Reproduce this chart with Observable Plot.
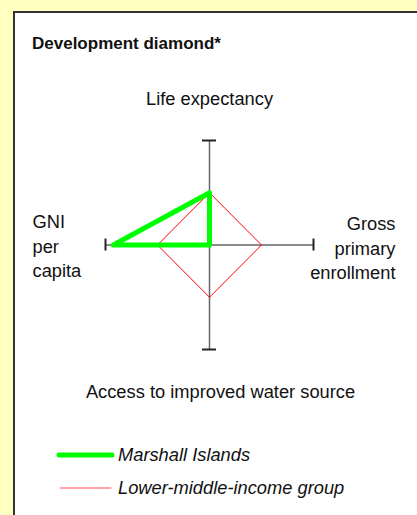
<!DOCTYPE html>
<html>
<head>
<meta charset="utf-8">
<script src="https://cdn.jsdelivr.net/npm/d3@7"></script>
<script src="https://cdn.jsdelivr.net/npm/@observablehq/plot@0.6"></script>
<style>
  html, body { margin: 0; padding: 0; }
  body { width: 417px; height: 515px; background: #FFFFC0; position: relative; overflow: hidden;
         font-family: "Liberation Sans", Arial, sans-serif; color: #111; }
  #panel { position: absolute; left: 13px; top: 11px; width: 404px; height: 504px; background: #fff;
           border-left: 2px solid #333; border-top: 2px solid #333; box-sizing: border-box; }
  #title { position: absolute; left: 32px; top: 34px; font-weight: bold; font-size: 17px; }
  #chart { position: absolute; left: 0; top: 70px; }
  .leg { position: absolute; left: 0; font-style: italic; font-size: 18.3px; white-space: nowrap; }
  .leg svg { position: absolute; top: 0; }
  .leg span { position: absolute; left: 118px; top: 0; line-height: 20px; }
</style>
</head>
<body>
<div id="panel"></div>
<div id="title">Development diamond*</div>
<div id="chart"></div>
<div id="legend"></div>
<script>
// Axis labels (direction order: up, right, down, left)
const axisLabels = ["Life expectancy", "Gross\nprimary\nenrollment", "Access to improved water source", "GNI\nper\ncapita"];
const axisDirX = [0, 1, 0, -1];
const axisDirY = [1, 0, -1, 0];
// Index values (lower-middle-income group = 1, axis end = 2)
const marshallIslands = [1.0, 0, 0, 1.85];
const lowerMiddleIncome = [1, 1, 1, 1];
const seriesNames = ["Marshall Islands", "Lower-middle-income group"];
const seriesColors = ["#00FF00", "#FF0000"];
const seriesWidths = [5, 1];
const axisMax = 2;

function polygon(vals, name) {
  const pts = vals.map((v, i) => ({x: v * axisDirX[i], y: v * axisDirY[i], series: name}));
  pts.push({...pts[0]});
  return pts;
}
const mPts = polygon(marshallIslands, seriesNames[0]);
const gPts = polygon(lowerMiddleIncome, seriesNames[1]);

const ends = axisLabels.map((t, i) => ({x: axisMax * axisDirX[i], y: axisMax * axisDirY[i], text: t, i}));
const labelDx = [0, 82, 11, -73];
const labelDy = [-43, 2, 41, 0];
const labelAnchor = ["middle", "end", "middle", "start"];

const plot = Plot.plot({
  width: 417,
  height: 340,
  margin: 0,
  style: {background: "transparent", fontFamily: "'Liberation Sans', Arial, sans-serif", color: "#111"},
  x: {domain: [-axisMax, axisMax], range: [105, 313], axis: null},
  y: {domain: [-axisMax, axisMax], range: [279, 70], axis: null},
  marks: [
    Plot.ruleX([0], {y1: -axisMax, y2: axisMax, stroke: "#666", strokeWidth: 1.5}),
    Plot.ruleY([0], {x1: -axisMax, x2: axisMax, stroke: "#666", strokeWidth: 1.5}),
    // end caps
    Plot.ruleY([-axisMax, axisMax], {x1: -0.135, x2: 0.135, stroke: "#222", strokeWidth: 2}),
    Plot.ruleX([-axisMax, axisMax], {y1: -0.115, y2: 0.115, stroke: "#222", strokeWidth: 2}),
    Plot.line(gPts, {x: "x", y: "y", stroke: seriesColors[1], strokeWidth: seriesWidths[1]}),
    Plot.line(mPts, {x: "x", y: "y", stroke: seriesColors[0], strokeWidth: seriesWidths[0], strokeLinejoin: "round", strokeLinecap: "round"}),
    ...ends.map((d, i) => Plot.text([d], {x: "x", y: "y", text: "text", dx: labelDx[i], dy: labelDy[i],
      fontSize: 18.3, lineHeight: 1.33, fill: "#111", textAnchor: labelAnchor[i], lineAnchor: "middle"}))
  ]
});
document.getElementById("chart").appendChild(plot);

// Legend
const legend = document.getElementById("legend");
const legTops = [445, 478];
seriesNames.forEach((name, i) => {
  const div = document.createElement("div");
  div.className = "leg";
  div.style.top = legTops[i] + "px";
  div.innerHTML = `<svg width="120" height="20" style="left:0"><line x1="${i ? 60 : 59}" x2="${i ? 111 : 112}" y1="10" y2="10" stroke="${seriesColors[i]}" stroke-width="${seriesWidths[i]}" stroke-linecap="round" ${i ? 'stroke-opacity="0.7"' : ''}/></svg><span>${name}</span>`;
  legend.appendChild(div);
});
</script>
</body>
</html>
